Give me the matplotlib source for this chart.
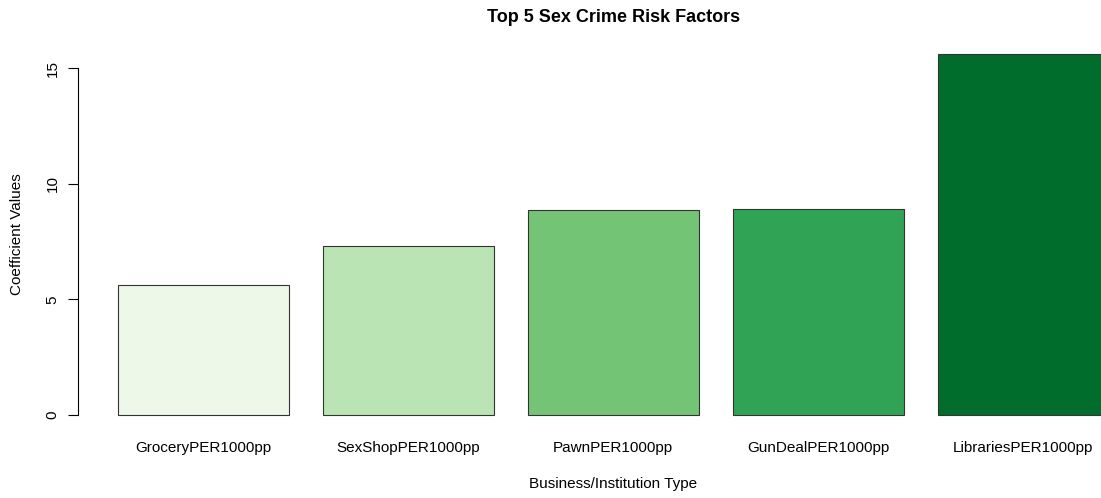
import matplotlib
matplotlib.use("Agg")
import matplotlib.pyplot as plt

plt.rcParams["font.family"] = ["Liberation Sans", "DejaVu Sans"]

categories = ["GroceryPER1000pp", "SexShopPER1000pp", "PawnPER1000pp",
              "GunDealPER1000pp", "LibrariesPER1000pp"]
coefficients = [5.63, 7.31, 8.88, 8.93, 15.62]
bar_colors = ["#EDF8E9", "#BAE4B3", "#74C476", "#31A354", "#006D2C"]
y_ticks = [0, 5, 10, 15]

W, H, DPI = 1101, 498, 100
# plot region in pixels (R base graphics layout, right side runs past the image)
left_px, right_px, top_px, bottom_px = 78.3, 1148.2, 39.6, 429.4

fig = plt.figure(figsize=(W / DPI, H / DPI), dpi=DPI)
ax = fig.add_axes([left_px / W, 1 - bottom_px / H,
                   (right_px - left_px) / W, (bottom_px - top_px) / H])

# R barplot geometry: width 1, space 0.2
centers = [0.7 + 1.2 * i for i in range(len(categories))]
ax.bar(centers, coefficients, width=1.0, color=bar_colors,
       edgecolor="#333333", linewidth=0.8)

span_x = 6.0 - 0.2
ax.set_xlim(0.2 - 0.04 * span_x, 6.0 + 0.04 * span_x)
ymax = max(coefficients)
ax.set_ylim(-0.04 * ymax, ymax * 1.04)

for side in ["top", "right", "bottom"]:
    ax.spines[side].set_visible(False)
ax.spines["left"].set_bounds(0, 15)
ax.spines["left"].set_linewidth(0.8)

ax.set_yticks(y_ticks, [str(t) for t in y_ticks], rotation=90, va="center",
              fontsize=11)
ax.tick_params(axis="y", length=7, width=0.8, pad=6.3)
ax.set_xticks(centers, categories, fontsize=11)
ax.tick_params(axis="x", length=0, pad=8.5)

h_ax = bottom_px - top_px
ax.set_xlabel("Business/Institution Type", fontsize=11, va="center")
ax.xaxis.set_label_coords(0.5, (bottom_px - 484) / h_ax)
ax.set_ylabel("Coefficient Values", fontsize=11, va="center")
ax.yaxis.set_label_coords((17 - left_px) / (right_px - left_px), 0.5)

ax.text(0.5, (bottom_px - 17) / h_ax, "Top 5 Sex Crime Risk Factors",
        transform=ax.transAxes, ha="center", va="center",
        fontsize=13, fontweight="bold")

fig.savefig("out.png", dpi=DPI)
